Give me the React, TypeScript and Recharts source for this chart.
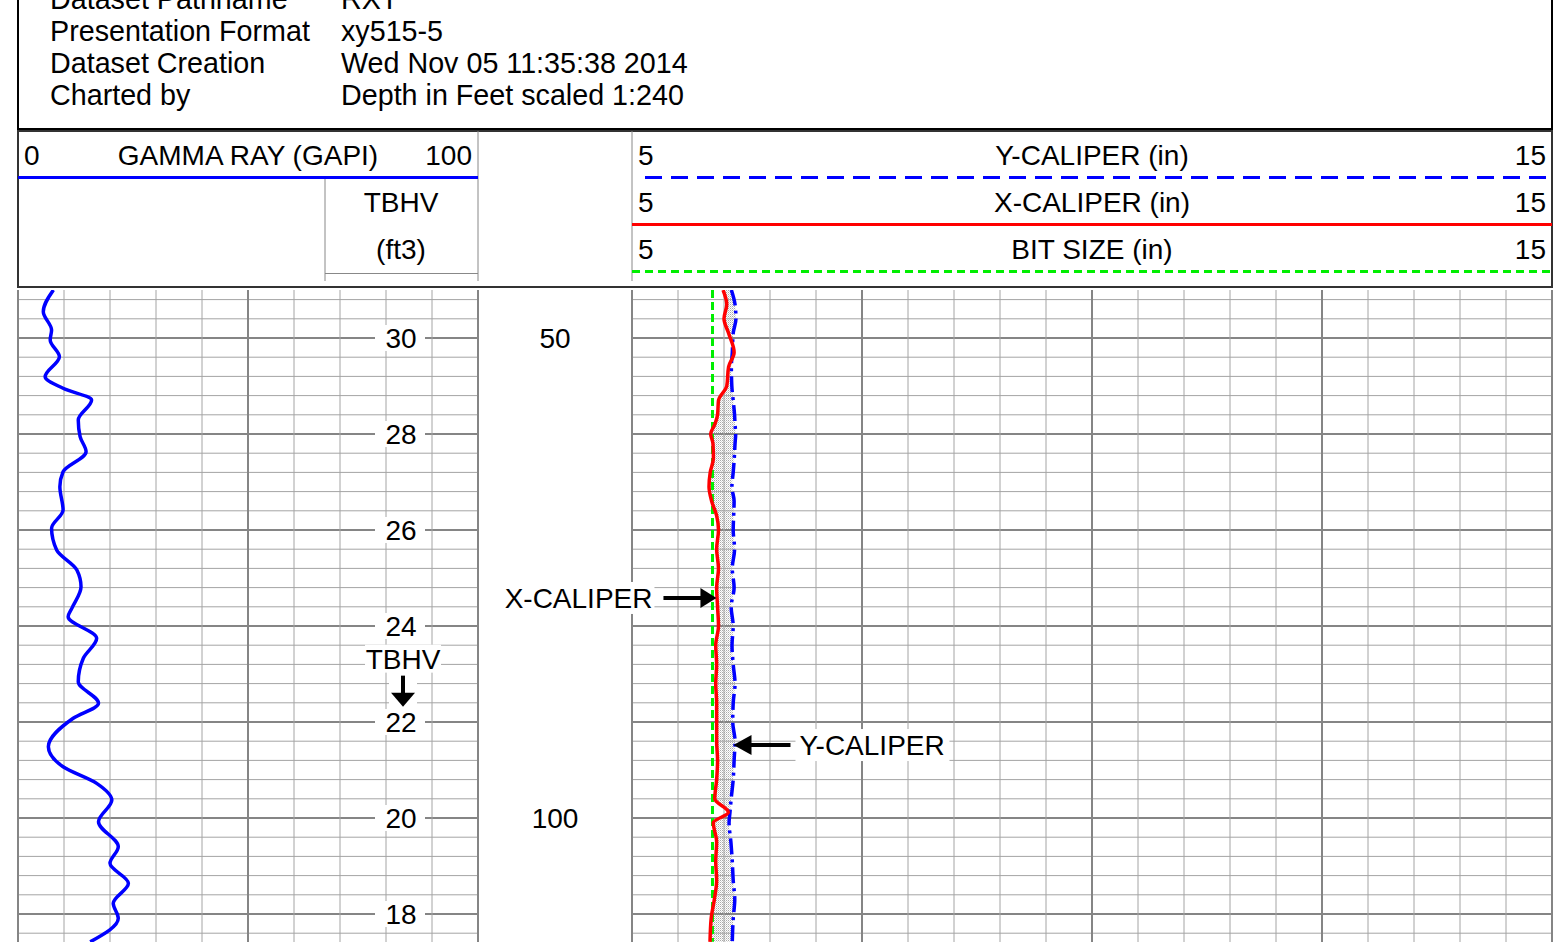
import React from 'react';
import { ComposedChart, Line, Area, XAxis, YAxis, ReferenceLine, ReferenceDot } from 'recharts';

// ---------- data ----------
const grDepth = [45.0, 47.26, 49.17, 50.2, 51.95, 54.03, 55.24, 56.46, 58.54, 60.28, 61.84, 63.93, 65.49, 67.92, 69.82, 72.08, 74.17, 75.91, 78.16, 79.03, 81.28, 83.36, 85.8, 88.05, 89.61, 92.57, 94.66, 96.39, 98.13, 100.39, 102.99, 104.72, 106.8, 108.89, 110.45, 112.9];
const grValue = [7.7, 5.5, 7.3, 7.0, 9.0, 5.9, 9.8, 16.0, 13.1, 13.5, 14.8, 9.8, 9.1, 9.8, 7.3, 8.4, 12.8, 13.7, 11.7, 10.9, 17.1, 14.2, 13.1, 17.5, 12.0, 6.6, 9.8, 17.1, 20.4, 17.5, 21.8, 20.0, 24.0, 20.7, 21.8, 15.7];

const calDepth = [45, 46.5, 48, 49.5, 51.5, 53, 55, 56.5, 58, 59, 60, 61, 62.5, 64, 65.5, 67, 68.5, 70, 72, 74, 76, 78, 80, 82, 84, 86, 88, 90, 92, 94, 96, 98, 99.4, 100.5, 102.5, 104.5, 106.5, 108.5, 110.5, 112.9];
const xCaliper = [5.99, 6.03, 6.0, 6.05, 6.11, 6.05, 6.03, 5.94, 5.93, 5.9, 5.855, 5.88, 5.885, 5.85, 5.837, 5.866, 5.92, 5.94, 5.92, 5.94, 5.92, 5.93, 5.94, 5.91, 5.92, 5.91, 5.92, 5.92, 5.92, 5.93, 5.92, 5.9, 6.047, 5.884, 5.92, 5.91, 5.92, 5.895, 5.86, 5.848];
const yCaliper = [6.08, 6.12, 6.13, 6.1, 6.09, 6.08, 6.085, 6.1, 6.115, 6.12, 6.127, 6.12, 6.112, 6.1, 6.086, 6.11, 6.105, 6.1, 6.115, 6.09, 6.11, 6.078, 6.1, 6.087, 6.1, 6.12, 6.1, 6.095, 6.12, 6.11, 6.1, 6.078, 6.065, 6.055, 6.075, 6.09, 6.1, 6.117, 6.1, 6.09];

const bitDepth = [45, 112.9];
const bitSize = [5.875, 5.875];

const tbhvTickDepth = [50, 60, 70, 80, 90, 100, 110];
const tbhvLabels = [30, 28, 26, 24, 22, 20, 18];
const depthLabels = [50, 100];

const gridDepths = [46, 48, 50, 52, 54, 56, 58, 60, 62, 64, 66, 68, 70, 72, 74, 76, 78, 80, 82, 84, 86, 88, 90, 92, 94, 96, 98, 100, 102, 104, 106, 108, 110, 112];
const majorDepths = [50, 60, 70, 80, 90, 100, 110];
const grGrid = [0, 10, 20, 30, 40, 50, 60, 70, 80, 90, 100];
const grMajor = [0, 50, 100];
const calGrid = [5, 5.5, 6, 6.5, 7, 7.5, 8, 8.5, 9, 9.5, 10, 10.5, 11, 11.5, 12, 12.5, 13, 13.5, 14, 14.5, 15];
const calMajor = [5, 7.5, 10, 12.5, 15];

const headerRows = [
  ['Dataset Pathname', 'RXT'],
  ['Presentation Format', 'xy515-5'],
  ['Dataset Creation', 'Wed Nov 05 11:35:38 2014'],
  ['Charted by', 'Depth in Feet scaled 1:240'],
];

// ---------- derived tables ----------
const grData = grDepth.map((d, i) => ({ depth: d, gr: grValue[i] }));
const calData = calDepth.map((d, i) => ({ depth: d, xc: xCaliper[i], yc: yCaliper[i], band: [xCaliper[i], yCaliper[i]] }));
const bitData = bitDepth.map((d, i) => ({ depth: d, bs: bitSize[i] }));

const FONT = "'Liberation Sans', Arial, Helvetica, sans-serif";
const DEPTH_DOMAIN: [number, number] = [45, 45 + 652 / 9.6];
const MINOR = '#a4a4a4';
const MAJOR = '#858585';

const T = (p: any) => <text fontFamily={FONT} fontSize={28} fill="#000" {...p} />;

const TbhvTick = (props: any) => {
  const { y, payload } = props;
  const i = tbhvTickDepth.indexOf(payload.value);
  if (i < 0) return null;
  return (
    <g>
      <rect x={357} y={y - 13} width={50} height={26} fill="#fff" />
      <T x={383} y={y + 10} textAnchor="middle">{tbhvLabels[i]}</T>
    </g>
  );
};

const DepthTick = (props: any) => {
  const { y, payload } = props;
  if (depthLabels.indexOf(payload.value) < 0) return null;
  return <T x={-77} y={y + 10} textAnchor="middle">{payload.value}</T>;
};

const TbhvNote = (props: any) => {
  const { cx, cy } = props;
  return (
    <g>
      <rect x={cx - 38} y={cy - 62} width={76} height={28} fill="#fff" />
      <rect x={cx - 14} y={cy - 34} width={28} height={36} fill="#fff" />
      <T x={cx} y={cy - 38} textAnchor="middle">TBHV</T>
      <line x1={cx} y1={cy - 31} x2={cx} y2={cy - 12} stroke="#000" strokeWidth={4} />
      <polygon points={`${cx},${cy} ${cx - 12},${cy - 14} ${cx + 12},${cy - 14}`} fill="#000" />
    </g>
  );
};

const XCalNote = (props: any) => {
  const { cx, cy } = props;
  return (
    <g>
      <rect x={cx - 218} y={cy - 16} width={156} height={32} fill="#fff" />
      <T x={cx - 64} y={cy + 10} textAnchor="end">X-CALIPER</T>
      <line x1={cx - 53} y1={cy} x2={cx - 14} y2={cy} stroke="#000" strokeWidth={4} />
      <polygon points={`${cx},${cy} ${cx - 16},${cy - 10} ${cx - 16},${cy + 10}`} fill="#000" />
    </g>
  );
};

const YCalNote = (props: any) => {
  const { cx, cy } = props;
  return (
    <g>
      <rect x={cx + 62} y={cy - 16} width={154} height={32} fill="#fff" />
      <T x={cx + 66} y={cy + 10}>Y-CALIPER</T>
      <line x1={cx + 14} y1={cy} x2={cx + 57} y2={cy} stroke="#000" strokeWidth={4} />
      <polygon points={`${cx},${cy} ${cx + 18},${cy - 10} ${cx + 18},${cy + 10}`} fill="#000" />
    </g>
  );
};

const Header = () => (
  <svg width={1568} height={290} style={{ position: 'absolute', left: 0, top: 0 }}>
    <rect x={18} y={-10} width={1534} height={139} fill="#fff" stroke="#000" strokeWidth={2} />
    {headerRows.map((r, i) => (
      <g key={i}>
        <T x={50} y={9 + i * 32} fontSize={28.7}>{r[0]}</T>
        <T x={341} y={9 + i * 32} fontSize={28.7}>{r[1]}</T>
      </g>
    ))}
    <rect x={18} y={131} width={1534} height={156} fill="#fff" stroke="#333" strokeWidth={2} />
    <line x1={478} y1={131} x2={478} y2={281} stroke="#888" strokeWidth={1} />
    <line x1={632} y1={131} x2={632} y2={281} stroke="#888" strokeWidth={1} />
    <line x1={325} y1={178} x2={325} y2={281} stroke="#888" strokeWidth={1} />
    <line x1={325} y1={273.5} x2={478} y2={273.5} stroke="#888" strokeWidth={1} />
    <T x={24} y={165}>0</T>
    <T x={248} y={165} textAnchor="middle">GAMMA RAY (GAPI)</T>
    <T x={472} y={165} textAnchor="end">100</T>
    <line x1={18} y1={177.5} x2={478} y2={177.5} stroke="#0000ff" strokeWidth={3} />
    <T x={401} y={212} textAnchor="middle">TBHV</T>
    <T x={401} y={259} textAnchor="middle">(ft3)</T>

    <T x={638} y={165}>5</T>
    <T x={1092} y={165} textAnchor="middle">Y-CALIPER (in)</T>
    <T x={1546} y={165} textAnchor="end">15</T>
    <line x1={645} y1={177.5} x2={1552} y2={177.5} stroke="#0000ff" strokeWidth={3} strokeDasharray="17 9" />
    <T x={638} y={212}>5</T>
    <T x={1092} y={212} textAnchor="middle">X-CALIPER (in)</T>
    <T x={1546} y={212} textAnchor="end">15</T>
    <line x1={632} y1={224.5} x2={1552} y2={224.5} stroke="#ff0000" strokeWidth={3} />
    <T x={638} y={259}>5</T>
    <T x={1092} y={259} textAnchor="middle">BIT SIZE (in)</T>
    <T x={1546} y={259} textAnchor="end">15</T>
    <line x1={632} y1={271.5} x2={1552} y2={271.5} stroke="#00ee00" strokeWidth={3} strokeDasharray="8 5" />
  </svg>
);

export default function App() {
  return (
    <div style={{ position: 'absolute', left: 0, top: 0, width: 1568, height: 942, overflow: 'hidden', background: '#fff' }}>
      <style>{`.recharts-surface{overflow:visible}`}</style>
      <Header />

      {/* Gamma ray + TBHV track */}
      <div style={{ position: 'absolute', left: 18, top: 290 }}>
        <ComposedChart width={460} height={652} layout="vertical" data={grData} margin={{ top: 0, right: 0, bottom: 0, left: 0 }}>
          <XAxis xAxisId="gr" type="number" domain={[0, 100]} hide allowDataOverflow />
          <YAxis yAxisId="d" type="number" dataKey="depth" domain={DEPTH_DOMAIN} hide allowDataOverflow />
          {gridDepths.map((d) => (
            <ReferenceLine key={'h' + d} xAxisId="gr" yAxisId="d" y={d}
              stroke={majorDepths.includes(d) ? MAJOR : MINOR} strokeWidth={majorDepths.includes(d) ? 2 : 1} />
          ))}
          {grGrid.map((v) => (
            <ReferenceLine key={'v' + v} xAxisId="gr" yAxisId="d" x={v}
              stroke={grMajor.includes(v) ? MAJOR : MINOR} strokeWidth={grMajor.includes(v) ? 2 : 1} />
          ))}
          <YAxis yAxisId="tbhv" type="number" dataKey="depth" domain={DEPTH_DOMAIN} orientation="right" mirror
            ticks={tbhvTickDepth} interval={0} tick={<TbhvTick />} axisLine={false} tickLine={false} allowDataOverflow />
          <Line xAxisId="gr" yAxisId="d" dataKey="gr" type="monotone" stroke="#0000ff" strokeWidth={3.5}
            dot={false} isAnimationActive={false} />
          <ReferenceDot xAxisId="gr" yAxisId="d" x={83.7} y={88.4} r={0} ifOverflow="visible" shape={<TbhvNote />} />
        </ComposedChart>
      </div>

      {/* Caliper track (also carries the depth labels of the middle track) */}
      <div style={{ position: 'absolute', left: 632, top: 290 }}>
        <ComposedChart width={920} height={652} layout="vertical" data={calData} margin={{ top: 0, right: 0, bottom: 0, left: 0 }}>
          <defs>
            <pattern id="stipple" width="2" height="2" patternUnits="userSpaceOnUse">
              <rect x="0" y="0" width="1" height="1" fill="#aaaaaa" />
              <rect x="1" y="1" width="1" height="1" fill="#d6d6d6" />
            </pattern>
          </defs>
          <XAxis xAxisId="cal" type="number" domain={[5, 15]} hide allowDataOverflow />
          <YAxis yAxisId="d" type="number" dataKey="depth" domain={DEPTH_DOMAIN} hide allowDataOverflow />
          <YAxis yAxisId="dl" type="number" dataKey="depth" domain={DEPTH_DOMAIN} orientation="left" mirror
            ticks={depthLabels} interval={0} tick={<DepthTick />} axisLine={false} tickLine={false} allowDataOverflow />
          {gridDepths.map((d) => (
            <ReferenceLine key={'h' + d} xAxisId="cal" yAxisId="d" y={d}
              stroke={majorDepths.includes(d) ? MAJOR : MINOR} strokeWidth={majorDepths.includes(d) ? 2 : 1} />
          ))}
          {calGrid.map((v) => (
            <ReferenceLine key={'v' + v} xAxisId="cal" yAxisId="d" x={v}
              stroke={calMajor.includes(v) ? MAJOR : MINOR} strokeWidth={calMajor.includes(v) ? 2 : 1} />
          ))}
          <Area xAxisId="cal" yAxisId="d" dataKey="band" type="monotone" stroke="none" fill="url(#stipple)"
            fillOpacity={1} isAnimationActive={false} />
          <Line xAxisId="cal" yAxisId="d" data={bitData} dataKey="bs" type="linear" stroke="#00ee00" strokeWidth={3}
            strokeDasharray="8 4" dot={false} isAnimationActive={false} />
          <Line xAxisId="cal" yAxisId="d" dataKey="yc" type="monotone" stroke="#0000ff" strokeWidth={3.5}
            strokeDasharray="16 5 3 5" dot={false} isAnimationActive={false} />
          <Line xAxisId="cal" yAxisId="d" dataKey="xc" type="monotone" stroke="#ff0000" strokeWidth={3.5}
            dot={false} isAnimationActive={false} />
          <ReferenceDot xAxisId="cal" yAxisId="d" x={5.918} y={77.08} r={0} ifOverflow="visible" shape={<XCalNote />} />
          <ReferenceDot xAxisId="cal" yAxisId="d" x={6.103} y={92.4} r={0} ifOverflow="visible" shape={<YCalNote />} />
        </ComposedChart>
      </div>
    </div>
  );
}
